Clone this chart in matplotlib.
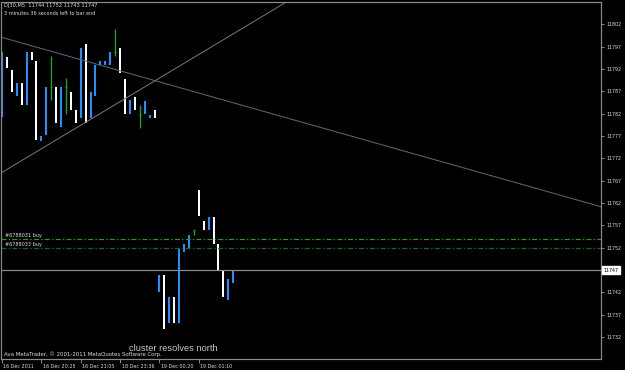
import matplotlib
matplotlib.use('Agg')
import matplotlib.pyplot as plt
from matplotlib import font_manager
from matplotlib.font_manager import FontProperties
from matplotlib.transforms import blended_transform_factory, ScaledTranslation

# ---------------- data ----------------
opens = [11781.2, 11794.8, 11791.8, 11786.0, 11788.8, 11784.0, 11795.8, 11793.8,
         11775.9, 11777.2, 11788.0, 11787.9, 11779.0, 11788.0, 11786.9, 11782.8,
         11781.0, 11797.7, 11781.0, 11786.0, 11793.0, 11793.0, 11793.0, 11795.8,
         11796.8, 11789.7, 11782.0, 11785.8, 11781.8, 11782.0, 11781.0, 11782.8,
         11742.0, 11745.9, 11735.1, 11740.9, 11735.1, 11751.1, 11752.0, 11756.0,
         11764.9, 11758.0, 11756.0, 11758.9, 11752.9, 11747.0, 11740.2, 11744.0]
closes = [11795.7, 11792.3, 11786.9, 11788.8, 11784.0, 11795.8, 11794.0, 11776.1,
          11777.0, 11787.9, 11788.0, 11779.9, 11787.9, 11788.0, 11782.9, 11779.9,
          11796.7, 11779.9, 11786.9, 11792.9, 11793.7, 11793.7, 11795.8, 11795.8,
          11791.0, 11782.0, 11785.1, 11782.9, 11781.8, 11784.8, 11781.8, 11781.0,
          11745.9, 11733.9, 11740.9, 11735.1, 11751.8, 11752.8, 11754.9, 11756.0,
          11759.1, 11756.0, 11758.9, 11752.9, 11747.0, 11741.0, 11744.9, 11747.0]
doji_idx = [10, 13, 23, 28, 39]
doji_high = [11794.9, 11789.9, 11800.9, 11784.0, 11756.0]
doji_low = [11785.1, 11782.0, 11794.9, 11778.9, 11754.8]

x_tick_idx = [0, 8, 16, 24, 32, 40]
x_tick_labels = ["16 Dec 2011", "16 Dec 20:25", "16 Dec 21:05",
                 "18 Dec 23:36", "19 Dec 00:20", "19 Dec 01:10"]
y_tick_values = [11802, 11797, 11792, 11787, 11782, 11777, 11772, 11767,
                 11762, 11757, 11752, 11747, 11742, 11737, 11732]

desc_line = [(-0.4, 11799.2), (121.7, 11761.2)]
asc_line = [(-0.4, 11768.6), (57.8, 11807.0)]
current_price = 11747
order_prices = [11754.0, 11751.9]
order_labels = ["#6788031 buy", "#6788033 buy"]
order_colors = ['#2c952c', '#1a661a']

header1 = "DJ30,M5  11744 11752 11743 11747"
header2 = "3 minutes 36 seconds left to bar end"
copyright_text = "Ava MetaTrader, \u00a9 2001-2011 MetaQuotes Software Corp."
comment_text = "cluster resolves north"

# ---------------- style ----------------
W, H = 625, 370
PX = 72 / 100.0  # points per pixel
FG = '#dcdcdc'
FRAME = '#8a8a8a'
UP = '#1e90ff'
DOWN = '#ffffff'
DOJI = '#16a81e'


def pick_small_font():
    try:
        fp = FontProperties(family='Liberation Sans Narrow')
        f = font_manager.findfont(fp, fallback_to_default=False)
        if 'Narrow' in f:
            return fp
    except Exception:
        pass
    try:
        fp = FontProperties(family='DejaVu Sans', stretch='condensed')
        f = font_manager.findfont(fp, fallback_to_default=False)
        if 'Condensed' in f:
            return fp
    except Exception:
        pass
    return FontProperties(family='Liberation Sans')


small_fp = pick_small_font()
comment_fp = FontProperties(family='Liberation Sans')

fig = plt.figure(figsize=(W / 100, H / 100), dpi=100, facecolor='black')
ax = fig.add_axes([1 / W, 11 / H, 600 / W, 357 / H])
ax.set_facecolor('black')
renderer = fig.canvas.get_renderer()


def fp_sized(fp, s, target_px):
    p = fp.copy()
    p.set_size(10)
    t = fig.text(0, 0, s, fontproperties=p)
    w = t.get_window_extent(renderer).width
    t.remove()
    q = fp.copy()
    q.set_size(10 * target_px / w)
    return q


# bars (open-close bodies)
for i, (o, c) in enumerate(zip(opens, closes)):
    if i in doji_idx:
        continue
    col = UP if c > o else DOWN
    ax.vlines(i, min(o, c), max(o, c), colors=col, lw=2 * PX, capstyle='butt')
for k, i in enumerate(doji_idx):
    ax.vlines(i, doji_low[k], doji_high[k], colors=DOJI, lw=1.3 * PX)
    ax.hlines(opens[i], i - 0.25, i + 0.25, colors=DOJI, lw=1.3 * PX)

# trend lines
ax.axline(desc_line[0], desc_line[1], color='#5a6a78', lw=1 * PX)
ax.axline(asc_line[0], asc_line[1], color='#6f7981', lw=1 * PX)

# current price line
ax.axhline(current_price, color='#8c8c8c', lw=1.2 * PX)

# order lines
plt.rcParams['lines.scale_dashes'] = False
for p, col in zip(order_prices, order_colors):
    ax.axhline(p, color=col, lw=1.2 * PX, linestyle=(0, (3.6, 1.6, 1.0, 1.6)))

btr = blended_transform_factory(ax.transAxes, ax.transData)
ofp = fp_sized(small_fp, order_labels[0], 37)
for p, lab in zip(order_prices, order_labels):
    ax.text(4 / 600, p, lab, transform=btr + ScaledTranslation(0, 3.5 / 100, fig.dpi_scale_trans),
            ha='left', va='center', fontproperties=ofp, color=FG)

ax.set_xlim(-0.2, 121.75)
ax.set_ylim(11727.1, 11807.0)

# frame
for s in ax.spines.values():
    s.set_color(FRAME)
    s.set_linewidth(1.2 * PX)

# y axis on right
yfp = fp_sized(small_fp, "11802", 15)
ax.yaxis.tick_right()
ax.set_yticks(y_tick_values)
ax.set_yticklabels(['' if v == current_price else str(v) for v in y_tick_values])
for lab in ax.get_yticklabels():
    lab.set_fontproperties(yfp)
ax.tick_params(axis='y', direction='out', length=2.5, width=0.7, color=FRAME,
               pad=1.5, labelcolor=FG)
ax.text(1.0, current_price, str(current_price),
        transform=btr + ScaledTranslation(2.5 / 100, 0, fig.dpi_scale_trans),
        ha='left', va='center', fontproperties=yfp, color='black',
        bbox=dict(boxstyle='square,pad=0.25', facecolor='white', edgecolor='white'))

# x axis
xfp = fp_sized(small_fp, x_tick_labels[0], 31)
ax.set_xticks(x_tick_idx)
ax.set_xticklabels([''] * len(x_tick_idx))
ax.tick_params(axis='x', direction='out', length=4 * PX, width=0.7, color=FRAME)
bx = blended_transform_factory(ax.transData, ax.transAxes)
for i, lab in zip(x_tick_idx, x_tick_labels):
    ax.text(i, 0, lab, transform=bx + ScaledTranslation(1.5 / 100, -7 / 100, fig.dpi_scale_trans),
            ha='left', va='center', fontproperties=xfp, color=FG, clip_on=False)


def ptext(x, y, s, target_w, fp, color=FG):
    fig.text(x / W, 1 - y / H, s, ha='left', va='center',
             fontproperties=fp_sized(fp, s, target_w), color=color)


ptext(4, 6, header1, 93, small_fp)
ptext(4, 13.5, header2, 92, small_fp)
ptext(4, 354.5, copyright_text, 159, small_fp)
ptext(129, 348.5, comment_text, 89, comment_fp, color='#c8c8c8')

fig.savefig('out.png', dpi=100, facecolor='black')
